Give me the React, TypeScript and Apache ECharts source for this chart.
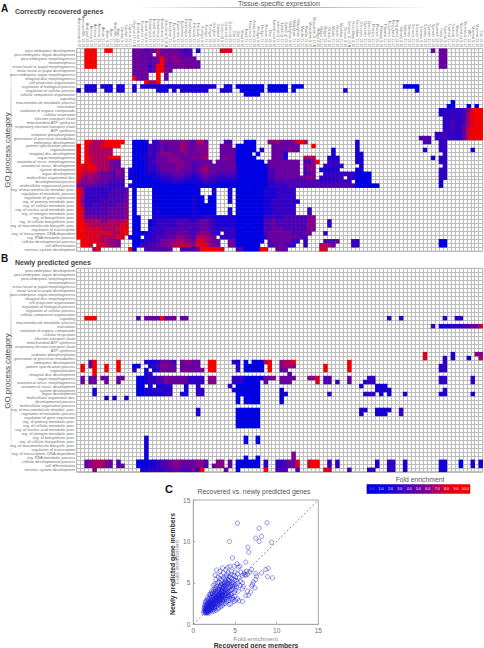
import React, { useEffect, useRef } from "react";
import * as echarts from "echarts";

const processLabels = [
  "post-embryonic development","post-embryonic organ development","post-embryonic morphogenesis","metamorphosis",
  "instar larval or pupal morphogenesis","instar larval or pupal development","post-embryonic organ morphogenesis",
  "imaginal disc morphogenesis","cell projection organization","regulation of biological process","regulation of cellular process",
  "cellular component organization","signaling","macromolecule metabolic process","translation","oxidation of organic compounds",
  "cellular respiration","electron transport chain","mitochondrial ATP synthesis","respiratory electron transport chain",
  "ATP synthesis","oxidative phosphorylation","generation of precursor metabolites","embryonic development",
  "pattern specification process","regionalization","imaginal disc development","organ morphogenesis","anatomical struct. morphogenesis",
  "anatomical struct. development","system development","organ development","multicellular organismal dev.","developmental process",
  "multicellular organismal process","reg. of macromolecule metabol. proc.","regulation of metabolic process","regulation of gene expression",
  "reg. of primary metabolic proc.","reg. of cellular metabolic proc.","reg. of nucleic acid metabolic proc.","reg. of nitrogen metabolic proc.",
  "reg. of biosynthetic proc.","reg. of cellular biosynthetic proc.","reg. of macromolecule biosynth. proc.","regulation of transcription",
  "reg. of transcription, DNA-dependent","reg. RNA metabolic process","cellular developmental process","cell differentiation","nervous system development",
];

const tissueLabels = [
  "Amnioserosa 9-10","Amnioser/Mn 13-16","Anal pad 13-16","Antenna 9-10","Antenna 11-12","Antenna 13-16","Atrium 11-12","Brain 9-10","Brain 11-12",
  "Brain/Mn 13-16","Brain 13-16","Cardiac 9-12","Cardiac 13-16","Clypeus 11-12","Clypeus 13-16 B","Dorsal ect 9-10","Dorsal ect 11-12","Dorsal epid 9-10",
  "Dorsal epid 11-12","Dorsal epid 13-16","Dorsal mus 11-12","Dorsal mus 13-16","Ectoderm 9-10 A","Ectoderm 11-12","Epidermis 9-10","Epidermis 11-12","Epidermis 13-16",
  "Esophagus 11-12","Esophagus 13-16","Fat body 11-12","Fat body 13-16","Foregut 9-10","Foregut 11-12","Foregut 13-16","Ganglion 13-16","Garland 13-16","Germ cell 9-10",
  "Germ cell 11-12","Germ cell 13-16","Glia 11-12","Glia 13-16","Head 9-10","Head 11-12","Head mus 11-12","Head mus 13-16","Hindgut 9-10","Hindgut 11-12",
  "Rectum 13-16","Disc 13-16","Lateral cord 9-10","Lateral cd 11-12","Lymph gl 11-12","Lymph gl 13-16","Malpighian 9-10","Malpighian 11-12",
  "Malpighian 13-16","Maxilla 11-12","Maxilla 13-16","Mesoderm 9-10","Mesoderm 11-12 B","Midgut 9-10","Midgut 11-12","Midgut 13-16","Muscle 9-10","Muscle 11-12",
  "Muscle 13-16","Myoblast 11-12","Neuron 9-10","Sensory 11-12 A","Neuroblast 9-10","Neuroblast 11-12","Oenocyte 13-16","Optic lobe 11-12","Optic lobe 13-16",
  "Pharynx 11-12","Pharynx 13-16","Plasmat 9-10","Plasmat 11-12","Proventric 13-16","Ring gland 11-12","Ring gland 13-16","Salivary 9-10","Salivary 11-12","Salivary 13-16",
  "Sensory 11-12","Sensory 13-16","Somatic 9-10","Somatic 13-16","Spiracle 11-12","Spiracle 13-16","Stomach 13-16","Testis 13-16","Tracheal 9-10","Tracheal 11-12","Tracheal 13-16",
  "Branch 13-16","Ventral cd 9-10","Ventral cd 11-12","VNC 13-16","Visceral 9-12","Visceral 13-16","Yolk 13-16",
];

// one string per GO row, one character per tissue column: "." empty, 1-9 fold, "a" fold 10 (spaces only group by ten)
const recoveredRows = [
  "..aaa..aa. ....555455 755555434. 2.....888. .......... .......... .......... .......... .........5 .55",
  "..aaa..... ....55555. 756565544. .......... .......... .......... .......... .......... .......... .55",
  "..aaa..... ....555545 6a65665555 .......... .......... .......... .......... .......... .......... .55",
  "..aaa..... ....555545 6a65665555 5......... .......... .......... .......... .......... .......... .55",
  "..aaa..... ....555535 aa55556555 5......... .......... .......... .......... .......... .......... .55",
  ".......... ....555545 aa65......",
  ".......... ....5555.. a.5.......",
  ".......... ....a555.. a.5.......",
  ".......... .......a77 a.........",
  "..222.222. 22..2.2222 2222222222 22222..22. 1111111.11 111.111... .......... .......... ..1111....",
  "2.222..22. 22..2..... 222.2.2222 222...222. .111111.11 111.1..... .......2.. .......... .....1....",
  ".......... .......... .......... .......... ..1111....",
  "",
  ".......... .......... .......... .......... .......... .......... .......... .......... .......... ....1.......",
  ".......... .......... .......... .......... .......... .......... .......... .......... .......... ...11...1.1.",
  ".......... .......... .......... .......... .......... .......... .......... .......... .......... .233333468aa",
  ".......... .......... .......... .......... .......... .......... .......... .......... .......... .233333479aa",
  ".......... .......... .......... .......... .......... .......... .......... .......... .......... ..33333479aa",
  ".......... .......... .......... .......... .......... .......... .......... .......... .......... ..33433479aa",
  ".......... .......... .......... .......... .......... .......... .......... .......... .......... ..33433579aa",
  ".......... .......... .......... .......... .......... .......... .......... .......... .......... ..33433589aa",
  ".......... .......... .......... .......... .......... .......... .......... .......... .......... 3343333589aa",
  ".......... .......... .......... .......... .......... .......... .......... .......... ......444. 3343333589aa",
  "..a8777aaa aa..1112.3 4655556654 775....44. ..111...66 755568a7.. .......... 2......... .......44. .33.........",
  "a.a7778aaa a...111143 4545557655 666...555. 11111....5 555555...a .......... 2......... .......... .33.........",
  "a.a777777. ....111143 4545557655 666...5555 11111.2..5 555655.... ....1..... 2......... .......2.. .33......2..",
  "a.a777777. ....111243 5666555655 566...5555 1111.1...5 552....... ....2..... 22........ .......... ..3.........",
  "a.a87777aa a...112233 5556665556 567...5655 11111....5 552....777 ...222.... 22........ .........2 .33.........",
  "a.a8777765 5...111234 5556666554 5555.55555 1111111.55 555555.446 a..333.... 22........ .......... .33.........",
  "aa8a877765 5...111233 4555566554 4565554555 2111111155 555555.556 ..33333... .2........ .......... ..3.........",
  "a88a877765 65.2111233 4555565554 5675555555 2111111144 555555.466 .22222.... 22........ .......... .33.........",
  "9877765554 65.2111222 3444555443 4565544444 2111111144 555555.445 ..33333343 1111...... .......... .33.........",
  "9767665554 55.1111112 2333444332 3454433333 2111111144 5555545566 .333334.33 1111...... .......... .33.........",
  "8666655544 44..111111 1222333222 2343322222 1111111133 4444444444 433333333. 1111...... .......... .2..........",
  "6555544433 33.2111111 1111111111 2122111111 1111111133 3334444444 4444444444 111111.... .......... .2..........",
  "a733333334 444.1....1 1111111111 1...2...2. 1111111222 33333.....",
  "a733333344 445.1....1 1111111111 1...2...2. 1111111222 33333.....",
  "a733333344 445.1....1 1111111112 11.11...2. 1111111222 33333.....",
  "a633334444 445.1....1 1111111112 11.11...2. 1111111223 333332....",
  "a733444444 556.1....1 2111111112 11111..... 1111111223 33333.....",
  "a844444455 556.1....1 2111111112 11111...2. 1111111223 33333...3.",
  "a844444455 556.1....1 2111111112 11111...2. 1111111223 33333...3.",
  "a855555555 556.11...2 2222222222 2233222222 1111111334 3344444466",
  "aa77776677 778.11..12 3333344433 4554322222 1111111445 4444444466 ...3......",
  "aa87777777 788.11..12 3333344444 4554322222 1111111445 4444444466 ...3......",
  "aa88887777 889.11..23 3344445444 4554333333 1111111445 5544444466",
  "aa88888887 78a.111223 3344455544 566533.333 1111111455 555544455. ..3.......",
  "aa98887777 88.211.223 4445566554 77765.3333 1111111355 55555544..",
  ".a98887766 6...112333 4556677665 887655..55 1111111.45 555533.3.. ..4445...3 3......... .......... .11.........",
  ".a98.88776 6...113344 5566778776 988765..55 111111..44 55433..3.. .7775....3 3......... .......... .11.........",
  "....78.... ...a1..444 4445..4444 5aaaaa8... 441111aa.. 555....... .88.......",
];

const predictedRows = [
  "","","","","","","","","","","","",
  "..aaa..... .....4.555 5a555.55.. .......... .......... .......... .......... ........3. .3........ ..3..33.....",
  "",
  ".......... .......... .......... .......... .......... .......... .......... .......... .........4 .22233344558",
  "","","","","","",
  ".......... .......... .......... .......... .......... .......... .......... .......... .......8.. ....2.....66",
  ".......... .......... .......... .......... .......... .......... .......... .......... .......9.. ..3.2...2..7",
  "...5a..... a......222 35553.5665 5..aa....3 2.1.1117a. .677a..... ........a. .......... .......... ..3.........",
  ".a.5a..a.. a...11..23 46655.5555 5..aa..... 3.11111.a. .6776..... ..a.....a. .......... .......... .33.........",
  ".a..a..a.. a...3..2.2 35555.5655 56.aa..... 3.11111.a. .55....... ..a.....a. .......... .......... .33.........",
  "....a..... .......23. .......... .......... .......... ...4......",
  ".5.55.55.. 55...11233 4465555533 33.66....3 3311111556 .5555...66 8.44....5. ...33..... .......... .33......3..",
  ".5.55..5.. 5....11233 4465555533 33.66....3 331111.5.. .555...... 8.44.3..5. ..233..... .......... .33......3..",
  ".......... .....11.2. 2233...2.. 3.......3. 111111.... .......... .......... .2...222..",
  "....2..... .....11223 3322...2.. 33.......2 111111.... .1........ .......... .....2222. .......... ..3.........",
  "....2..... .....11222 2233..22.. 33........ 111111.... .22....... ...3...... ..333.2.2. ..2....... .22......2..",
  ".......2.2 ..2....... .......... .......... 1.1111.... .1........",
  ".......... .......... .......... .......... 1.1111.... .1........",
  "",
  ".......... .......... .......... 2......... 111111.... .......... .......... .22..2222. .3........",
  ".......... .......... .......... 2......... 111111.... .......... .......... .2...222.. .3........",
  ".......... .......... .......... .......... 111111....",
  ".......... .......... .......... .......... 111111....",
  ".......... .......... .......... .......... 111111....",
  "","",
  ".......... .......2.. .......... .......... ..1..1....",
  ".......... .......2.. .......... .......... ..1..1....",
  ".......... .......2..",
  ".......... .......2..",
  ".......... .......2.. .......... .......... .......... ....6.....",
  ".......... .......2.. .......... .......... ..1..1.... ....6.....",
  "..5677765. 4....11122 3445665555 664..66.5. 111111.3.. 334558..8a a..3.3.... .....2..33 ..2....... .22...1..2.2",
  "..5677765. 45...11122 3445665555 664.566.5. 111111.3.. 334558..8a a..3.3.... .....2..33 ..2....... .22...1..2.2",
  "....6..... ......2233 3344554445 4a.....5.. 1......a.. 444..4.... ..88....4. ...33...33 ..2....... .22.........",
];

const legendValues = [0, 1, 2, 3, 4, 5, 6, 7, 8, 9, 10];

const scatterPoints = [
  [5.3,12.2],[8.85,12.25],[7.9,11.6],[8.2,10.6],[7.5,10.4],[7.9,10],[9.4,9.9],[4.35,10],[6.55,9.3],[6.65,8.7],[4.7,8],[6.3,7.5],[5.25,7.3],
  [9,6.75],[8.7,6.6],[8.2,6.2],[8.9,5.75],[9.5,5.6],[7.5,6.1],[7,6.6],[2.8,6.55],[2.6,5.95],[7.6,5.8],[7.5,5.4],[7.2,5.1],[7.1,4.8],[7,4.6],[7.4,4.4],
  [6.9,3.9],[6.6,3.5],[6.3,3.45],[6.5,4],[5.9,4.3],[6,4.55],[5.5,2.85],[5.1,2.9],[4.9,2.75],[5.9,2.75],[5.3,3.1],[4.3,2.4],[4.5,2.45],
  [5.6,7],[5.4,6.9],[4.9,7],[4.4,7],[4.1,6.85],[3.9,6.6],[3.5,6.8],[3.2,6.4],[3.6,6.2],[3.3,5.9],[3,5.7],[2.7,5.4],[4.6,6.4],[5,6.3],[5.7,6.3],[5.3,6.1],
  [6.1,6.2],[6.2,6],[6.3,5.9],[6.5,6.05],[6.4,6.4],[6.8,6.3],[5.9,5.9],[4.2,6.2],[4.5,6.05],[4.9,5.9],[5.1,5.7],[4.3,5.8],[3.9,5.7],[3.6,5.6],[4.6,5.5],
  [5,5.3],[5.5,5.6],[5.7,5.2],[5.3,4.9],[5.9,5],[5.6,4.7],[5.2,4.5],[5,4.8],[4.7,5],[4.4,5.2],[4.2,5.4],[3.9,5.2],[3.7,5],[3.4,5.3],[3.1,5.1],[2.9,5],
  [2.6,4.9],[2.4,4.7],[2.8,4.6],[3.1,4.6],[3.3,4.7],[3.5,4.4],[3.8,4.6],[4.1,4.8],[4.3,4.5],[4.5,4.6],[4.6,4.2],[4.8,4.3],[5.1,4.1],[5.4,4],[4.9,3.8],
  [4.6,3.7],[4.3,3.9],[4.1,4.1],[3.9,4.3],[3.7,4.2],[3.5,4.1],[3.3,4.2],[3.1,4.2],[2.9,4.3],[2.6,4.4],[2.4,4.2],[2.2,4],[2.7,4],[2.9,3.9],[3.1,3.9],[3.4,3.8],
  [3.6,3.8],[3.8,3.9],[4,3.7],[4.2,3.6],[4.4,3.4],[4.7,3.3],[5,3.4],[4.1,3.3],[3.9,3.4],[3.7,3.5],[3.5,3.5],[3.3,3.5],[3.1,3.6],[2.9,3.6],[2.7,3.7],[2.5,3.7],
  [2.3,3.6],[2.1,3.7],[1.9,3.6],[2,3.3],[2.2,3.3],[2.4,3.4],[2.6,3.4],[2.8,3.3],[3,3.3],[3.2,3.2],[3.4,3.2],[3.6,3.1],[3.8,3.1],[4,3],[4.2,2.9],[3.7,2.8],[3.5,2.8],
  [3.3,2.9],[3.1,3],[2.9,3],[2.7,3.1],[2.5,3.1],[2.3,3],[2.1,3],[1.9,3.1],[1.7,3.2],[1.6,2.9],[1.8,2.8],[2,2.8],[2.2,2.7],[2.4,2.8],[2.6,2.8],[2.8,2.8],[3,2.7],
  [3.2,2.6],[3.4,2.5],[3.6,2.5],[3.1,2.3],[2.9,2.4],[2.7,2.5],[2.5,2.5],[2.3,2.4],[2.1,2.5],[1.9,2.5],[1.7,2.6],[1.5,2.6],[1.4,2.4],[1.6,2.3],[1.8,2.3],[2,2.2],
  [2.2,2.1],[2.4,2.2],[2.6,2.2],[2.8,2.1],[3,2],[2.6,1.9],[2.4,1.8],[2.2,1.9],[2,1.9],[1.8,2],[1.6,2.1],[1.4,2.1],[1.3,1.9],[1.5,1.9],[1.7,1.8],[1.9,1.7],[2.1,1.6],
  [2.3,1.6],[1.8,1.5],[1.6,1.6],[1.4,1.7],[1.3,1.6],[1.5,1.4],[1.4,1.35],[1.65,1.35],[1.25,1.45],[1.9,1.35],[1.55,1.75],[1.75,1.65],[1.35,2.2],[1.45,2.75],[1.65,2.45],
  [1.85,2.15],[2.05,2.05],[2.25,2.25],[2.45,2.35],[2.65,2.65],[2.85,2.95],[3.05,3.15],[3.25,3.35],[3.45,3.65],[3.65,3.95],[3.85,4.15],[2.15,2.85],[2.35,3.25],[2.55,3.55],
  [2.75,3.85],[2.95,4.1],[3.15,4.4],[3.35,4.55],[3.55,4.8],[3.75,4.95],[3.95,4.85],[4.15,5],[4.35,4.9],[4.55,4.85],[4.75,4.55],[1.75,2.95],[1.95,2.65],[2.15,2.35],[2.35,2.05],
  [2.55,2.05],[2.75,2.35],[2.95,2.55],[3.15,2.75],[3.35,3.05],[3.55,3.35],[3.75,3.55],[3.95,3.65],[4.15,3.45],[4.35,3.15],[4.55,3.05],[4.75,3],[2.05,3.55],[2.25,3.75],
  [2.45,3.95],[2.65,4.2],[1.55,2.2],[1.95,1.85],[2.15,1.75],[2.5,1.6],[2.75,1.7],[3,1.85],[3.3,2.1],[3.5,2.25],[3.8,2.5],[4,2.7],[1.45,1.55],[1.6,1.95],[1.8,2.4],[2.05,2.6],
  [1.7,2.2],[1.4,1.85],[1.55,1.5],[1.7,1.45],[1.85,1.85],[2.1,2.15],[2.3,2.55],[2.55,2.75],[2.8,3.15],[3,3.45],[3.2,3.75],[3.4,4],[3.6,4.35],[3.8,4.75],[4,5.05],[4.25,5.25],
  [2.9,3.25],[3.05,3.5],[3.15,3.65],[3.3,3.3],[2.95,2.9],[3.2,3],[3.4,3.45],[2.7,3.2],[2.5,2.95],[2.35,2.7],[2.2,2.55],[2,2.4],[1.75,2.05],[1.6,1.8],[1.5,1.65],[1.95,2.05],
  [2.35,2.45],[2.6,2.5],[2.8,2.65],[3.05,2.85],[3.25,3.1],[3.5,3],[3.7,3.25],[3.1,3.3],[3.3,3.7],[3.45,3.95],[2.6,3.15],[2.45,2.65],[1.85,1.6],[1.6,1.4],[2.2,2],[2.05,1.8],
  [4.05,4.4],[4.25,4.25],[4.45,4.05],[4.7,4.7],[4.95,4.5],[5.2,5.2],[4.85,5.45],[4.45,5.65],[3.85,3.6],[4.1,3.85],[4.5,3.6],[3.6,4.6],[3.4,4.9],[3.2,5.5],[3.8,5.45],[4,5.95],
];

const rowsToCells = (rows: string[]) => {
  const cells: number[][] = [];
  rows.forEach((line, r) => {
    line.replace(/ /g, "").split("").forEach((ch, c) => {
      if (ch !== ".") cells.push([c, r, ch === "a" ? 10 : Number(ch)]);
    });
  });
  return cells;
};

const GRID_LINE = "#bcbcbc";
const TEXT_GREY = "#6e6e6e";
const FONT = "Liberation Sans";

const heatAxes = (idx: number) => ({
  x: {
    type: "category", gridIndex: idx, data: tissueLabels, position: "top",
    axisLine: { show: false }, axisTick: { show: false },
    axisLabel: idx === 0
      ? { interval: 0, rotate: 90, fontSize: 3.6, margin: 1.5, color: TEXT_GREY, fontFamily: FONT }
      : { show: false },
    splitLine: { show: true, interval: 0, lineStyle: { color: GRID_LINE, width: 1 } },
  },
  y: {
    type: "category", gridIndex: idx, data: processLabels, inverse: true,
    axisLine: { show: false }, axisTick: { show: false },
    axisLabel: { interval: 0, fontSize: 3.9, margin: 1.5, color: TEXT_GREY, fontFamily: FONT },
    splitLine: { show: true, interval: 0, lineStyle: { color: GRID_LINE, width: 1 } },
  },
});

export default function App() {
  const ref = useRef<HTMLDivElement>(null);
  useEffect(() => {
    document.body.style.margin = "0";
    const chart = echarts.init(ref.current!, null, { renderer: "svg" });
    const a = heatAxes(0);
    const b = heatAxes(1);
    const fade = (x: number, y: number, w: number, h: number, horizontal: boolean) => ({
      type: "rect", shape: { x, y, width: w, height: h },
      style: {
        fill: new echarts.graphic.LinearGradient(0, 0, horizontal ? 1 : 0, horizontal ? 0 : 1, [
          { offset: 0, color: "rgba(150,150,150,0)" },
          { offset: 0.5, color: "rgba(150,150,150,0.9)" },
          { offset: 1, color: "rgba(150,150,150,0)" },
        ]),
      },
    });
    const txt = (text: string, x: number, y: number, size: number, fill: string, extra: any = {}, rot = 0) => ({
      type: "text", x, y, rotation: rot,
      style: { text, fontSize: size, fill, fontFamily: FONT, textVerticalAlign: "middle", ...extra },
    });
    chart.setOption({
      animation: false,
      backgroundColor: "#ffffff",
      grid: [
        { left: 76.7, top: 48.7, width: 406, height: 202.5, show: true, borderColor: "#a8a8a8", borderWidth: 1, backgroundColor: "transparent" },
        { left: 76.7, top: 268.3, width: 406, height: 203.5, show: true, borderColor: "#a8a8a8", borderWidth: 1, backgroundColor: "transparent" },
        { left: 193.3, top: 500, width: 125, height: 124.3, show: true, borderColor: "#a8a8a8", borderWidth: 1, backgroundColor: "transparent" },
        { left: 367, top: 484.5, width: 103, height: 9 },
      ],
      xAxis: [
        a.x, b.x,
        {
          type: "value", gridIndex: 2, min: 0, max: 15, interval: 5,
          splitLine: { show: false }, axisLine: { lineStyle: { color: "#a8a8a8" } },
          axisTick: { inside: true, length: 2, lineStyle: { color: "#a8a8a8" } },
          axisLabel: { fontSize: 6.5, color: TEXT_GREY, margin: 3, fontFamily: FONT },
          name: "Fold enrichment", nameLocation: "middle", nameGap: 8.5,
          nameTextStyle: { fontSize: 6.2, color: "#8a8a8a", fontFamily: FONT },
        },
        { type: "category", gridIndex: 3, data: legendValues, axisLine: { show: false }, axisTick: { show: false }, axisLabel: { show: false }, splitLine: { show: false } },
      ],
      yAxis: [
        a.y, b.y,
        {
          type: "value", gridIndex: 2, min: 0, max: 15, interval: 5,
          splitLine: { show: false }, axisLine: { lineStyle: { color: "#a8a8a8" } },
          axisTick: { inside: true, length: 2, lineStyle: { color: "#a8a8a8" } },
          axisLabel: { fontSize: 6.5, color: TEXT_GREY, margin: 3, fontFamily: FONT },
          name: "Fold enrichment", nameLocation: "middle", nameGap: 12,
          nameTextStyle: { fontSize: 6.2, color: "#8a8a8a", fontFamily: FONT },
        },
        { type: "category", gridIndex: 3, data: ["fold"], axisLine: { show: false }, axisTick: { show: false }, axisLabel: { show: false }, splitLine: { show: false } },
      ],
      visualMap: {
        show: false, type: "continuous", min: 1, max: 10, dimension: 2, seriesIndex: [0, 1, 2],
        inRange: { color: ["#0000e0", "#2c00c8", "#5c00a8", "#900080", "#e00018", "#f40000"] },
        outOfRange: { color: "#ffffff" },
      },
      series: [
        { type: "heatmap", xAxisIndex: 0, yAxisIndex: 0, data: rowsToCells(recoveredRows), itemStyle: { borderWidth: 0 } },
        { type: "heatmap", xAxisIndex: 1, yAxisIndex: 1, data: rowsToCells(predictedRows), itemStyle: { borderWidth: 0 } },
        {
          type: "heatmap", xAxisIndex: 3, yAxisIndex: 3,
          data: legendValues.map((v, i) => ({ value: [i, 0, v], label: { color: v === 0 ? "#888888" : "#ffffff" } })),
          itemStyle: { borderWidth: 0 },
          label: {
            show: true, fontSize: 3.6, fontFamily: FONT,
            formatter: (p: any) => p.value[2].toFixed(1),
          },
        },
        {
          type: "scatter", xAxisIndex: 2, yAxisIndex: 2, data: scatterPoints, symbol: "circle", symbolSize: 4.2,
          itemStyle: { color: "rgba(0,0,0,0)", borderColor: "#1a1ae0", borderWidth: 0.6 },
        },
        {
          type: "line", xAxisIndex: 2, yAxisIndex: 2, data: [[0, 0], [15, 15]], showSymbol: false, silent: true,
          lineStyle: { color: "#555555", width: 0.7, type: [2, 2] },
        },
      ],
      graphic: [
        txt("A", 1, 8, 10, "#111111", { fontWeight: "bold" }),
        txt("Correctly recovered genes", 15, 11.5, 7, "#444444", { fontWeight: "bold" }),
        txt("Tissue-specific expression", 238, 3.5, 7, "#555555"),
        fade(135, 7, 295, 1, true),
        txt("B", 1, 258, 10, "#111111", { fontWeight: "bold" }),
        txt("Newly predicted genes", 15, 262, 7, "#444444", { fontWeight: "bold" }),
        txt("C", 165, 488.5, 11, "#111111", { fontWeight: "bold" }),
        txt("Recovered vs. newly predicted genes", 254, 491, 6.8, "#555555", { textAlign: "center" }),
        txt("GO process category", 7, 150, 8, "#444444", { textAlign: "center" }, Math.PI / 2),
        txt("GO process category", 7, 371, 8, "#444444", { textAlign: "center" }, Math.PI / 2),
        fade(10.5, 50, 1, 200, false),
        fade(10.5, 270, 1, 200, false),
        txt("Newly predicted gene members", 172.5, 564, 6.8, "#333333", { textAlign: "center", fontWeight: "bold" }, Math.PI / 2),
        txt("Recovered gene members", 256, 645, 6.8, "#333333", { textAlign: "center", fontWeight: "bold" }),
        txt("Fold enrichment", 420, 479, 6.8, "#555555", { textAlign: "center" }),
        { type: "rect", shape: { x: 367, y: 484.5, width: 9.4, height: 9 }, style: { fill: "none", stroke: "#a8a8a8", lineWidth: 0.7 } },
      ],
    });
    return () => chart.dispose();
  }, []);
  return <div ref={ref} style={{ width: 484, height: 648 }} />;
}
